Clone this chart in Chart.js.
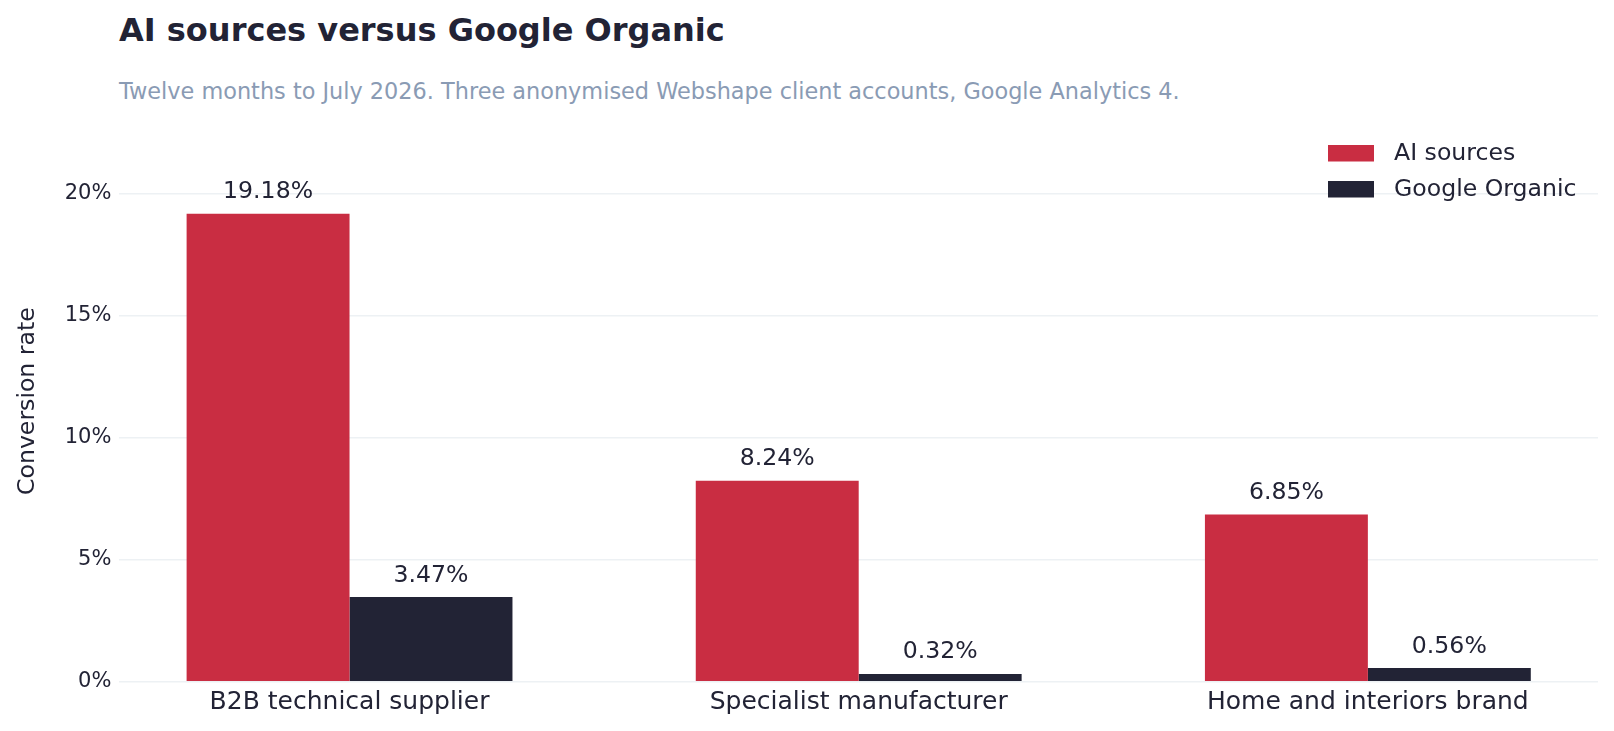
<!DOCTYPE html>
<html>
<head>
<meta charset="utf-8">
<script src="https://cdn.jsdelivr.net/npm/chart.js@4/dist/chart.umd.min.js"></script>
<style>
  html, body { margin: 0; padding: 0; background: #ffffff; }
  body { width: 1614px; height: 731px; position: relative; overflow: hidden; font-family: 'DejaVu Sans', sans-serif; }
  #chart-title { position: absolute; left: 119px; top: 12px; font-size: 32px; font-weight: bold; color: #222335; line-height: 1.164; white-space: nowrap; }
  #chart-subtitle { position: absolute; left: 119px; top: 78px; font-size: 22.4px; color: #8a9bb4; line-height: 1.164; white-space: nowrap; }
  #report-chart { position: absolute; left: 0; top: 0; }
</style>
</head>
<body>
<div id="chart-title">AI sources versus Google Organic</div>
<div id="chart-subtitle">Twelve months to July 2026. Three anonymised Webshape client accounts, Google Analytics 4.</div>
<canvas id="report-chart" width="1614" height="731"></canvas>
<script>
// --- data ---
const categories = ['B2B technical supplier', 'Specialist manufacturer', 'Home and interiors brand'];
const aiRates = [19.18, 8.24, 6.85];
const organicRates = [3.47, 0.32, 0.56];
const seriesNames = ['AI sources', 'Google Organic'];
const yTicks = [0, 5, 10, 15, 20];

const textColor = '#222335';
const fontFamily = "'DejaVu Sans', sans-serif";

// value labels above each bar
const barLabels = {
    id: 'barLabels',
    afterDatasetsDraw(chart) {
        const ctx = chart.ctx;
        ctx.save();
        ctx.font = `23.6px ${fontFamily}`;
        ctx.fillStyle = textColor;
        ctx.textAlign = 'center';
        ctx.textBaseline = 'alphabetic';
        chart.data.datasets.forEach((ds, di) => {
            chart.getDatasetMeta(di).data.forEach((bar, i) => {
                ctx.fillText(ds.data[i].y.toFixed(2) + '%', bar.x, bar.y - 15.5);
            });
        });
        ctx.restore();
    }
};

// legend inside the plot, top right
const innerLegend = {
    id: 'innerLegend',
    afterDraw(chart) {
        const ctx = chart.ctx;
        const area = chart.chartArea;
        const x0 = area.right - 270;
        ctx.save();
        ctx.font = `23.6px ${fontFamily}`;
        ctx.textBaseline = 'middle';
        ctx.textAlign = 'left';
        chart.data.datasets.forEach((ds, i) => {
            const y = area.top + 24.5 + i * 36;
            ctx.fillStyle = ds.backgroundColor;
            ctx.fillRect(x0, y, 46, 16.5);
            ctx.fillStyle = textColor;
            ctx.fillText(ds.label, x0 + 66, y + 8.5);
        });
        ctx.restore();
    }
};

const ctx = document.getElementById('report-chart').getContext('2d');
new Chart(ctx, {
    type: 'bar',
    data: {
        datasets: [
            {
                label: seriesNames[0],
                data: categories.map((c, i) => ({ x: i, y: aiRates[i] })),
                backgroundColor: '#c92d42',
                borderWidth: 0
            },
            {
                label: seriesNames[1],
                data: categories.map((c, i) => ({ x: i, y: organicRates[i] })),
                backgroundColor: '#222335',
                borderWidth: 0
            }
        ]
    },
    options: {
        responsive: false,
        animation: false,
        devicePixelRatio: 1,
        categoryPercentage: 0.64,
        barPercentage: 1,
        layout: { padding: { left: 0, right: 16, top: 120.5, bottom: 0 } },
        plugins: { legend: { display: false }, tooltip: { enabled: false } },
        scales: {
            x: {
                type: 'linear',
                min: -0.452,
                max: 2.452,
                offset: false,
                grid: { display: false, offset: false },
                border: { display: false },
                afterBuildTicks: scale => {
                    scale.ticks = categories.map((c, i) => ({ value: i }));
                },
                afterFit: scale => { scale.height = 49.3; },
                ticks: {
                    autoSkip: false,
                    maxRotation: 0,
                    padding: -2,
                    color: textColor,
                    font: { family: fontFamily, size: 25, lineHeight: 1.2 },
                    callback: v => categories[v]
                }
            },
            y: {
                min: 0,
                max: 23,
                afterBuildTicks: scale => {
                    scale.ticks = yTicks.map(v => ({ value: v }));
                },
                afterFit: scale => { scale.width = 119.4; },
                grid: { color: '#edf1f4', lineWidth: 1.6, drawTicks: false },
                border: { display: false },
                ticks: {
                    padding: 8,
                    color: textColor,
                    font: { family: fontFamily, size: 21 },
                    callback: v => v + '%'
                },
                title: {
                    display: true,
                    text: 'Conversion rate',
                    color: textColor,
                    padding: { top: 14, bottom: 0 },
                    font: { family: fontFamily, size: 23.6, lineHeight: 1.2 }
                }
            }
        }
    },
    plugins: [barLabels, innerLegend]
});
</script>
</body>
</html>
